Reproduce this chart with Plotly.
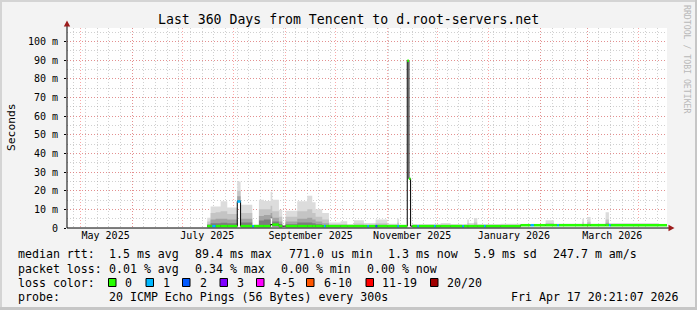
import plotly.graph_objects as go

# ---------------- data (values in milliseconds) ----------------
range_start = "2025-04-22 20:21:07"
range_end = "2026-04-17 20:21:07"

seg_start = [
    "2025-07-16", "2025-07-18", "2025-07-19", "2025-07-21", "2025-07-24", "2025-07-28",
    "2025-08-03", "2025-08-05", "2025-08-12", "2025-08-13", "2025-08-16", "2025-08-19",
    "2025-08-23", "2025-08-24", "2025-08-28", "2025-08-30", "2025-09-01", "2025-09-08",
    "2025-09-14", "2025-09-17", "2025-09-19", "2025-09-23", "2025-09-24", "2025-09-25",
    "2025-09-27", "2025-10-04", "2025-10-08", "2025-10-12", "2025-10-18", "2025-10-20",
    "2025-10-21", "2025-10-25", "2025-10-26", "2025-11-01", "2025-11-07", "2025-11-08",
    "2025-11-13", "2025-11-14", "2025-11-15", "2025-11-16", "2025-11-19", "2025-11-20",
    "2025-11-29", "2025-11-30", "2025-12-03", "2025-12-09", "2025-12-16", "2025-12-17",
    "2025-12-19", "2025-12-20", "2025-12-23", "2025-12-25", "2025-12-29", "2025-12-30",
    "2026-01-08", "2026-01-20", "2026-01-26", "2026-01-28", "2026-02-04", "2026-02-09",
    "2026-02-11", "2026-02-12", "2026-02-26", "2026-02-27", "2026-03-01", "2026-03-03",
    "2026-03-12", "2026-03-14", "2026-03-15", "2026-04-13",
]
ping_min = [
    0.75, 0.75, 0.75, 0.75, 0.75, 0.75,
    14.0, 0.75, 0.75, 0.75, 0.75, 0.75,
    5.5, 0.75, 0.75, 1.0, 0.75, 0.75,
    0.75, 0.75, 0.75, 0.75, 0.75, 0.75,
    0.75, 0.75, 0.75, 0.75, 0.75, 0.75,
    0.75, 0.75, 0.75, 0.75, 0.75, 0.75,
    89.5, 26.2, 1.0, 0.75, 0.75, 0.75,
    0.75, 0.75, 0.75, 0.75, 0.75, 0.75,
    0.75, 0.75, 0.75, 0.75, 0.75, 0.75,
    0.75, 1.2, 1.2, 1.2, 1.2, 1.2,
    1.2, 1.2, 1.2, 1.2, 1.2, 1.2,
    1.2, 1.2, 1.2, 1.2,
]
smoke_inner = [
    1.5, 2.5, 2.5, 2.5, 2.8, 2.5,
    15.0, 3.0, 1.1, 1.1, 4.0, 4.5,
    6.0, 3.5, 2.2, 1.0, 2.0, 3.0,
    3.0, 2.5, 2.0, 1.6, 1.6, 1.6,
    1.2, 1.2, 1.1, 1.2, 1.1, 1.1,
    1.1, 1.2, 1.2, 1.1, 1.2, 1.0,
    89.6, 26.3, 1.0, 1.1, 1.1, 1.1,
    1.1, 1.1, 1.1, 1.1, 1.1, 1.1,
    1.2, 1.1, 1.2, 1.1, 1.1, 1.1,
    1.1, 1.5, 1.5, 1.5, 1.6, 1.5,
    1.5, 1.5, 1.6, 1.5, 1.7, 1.5,
    1.8, 1.5, 1.5, 1.5,
]
smoke_mid = [
    2.2, 4.5, 4.5, 5.0, 5.0, 4.5,
    17.0, 5.0, 1.3, 1.3, 6.5, 7.0,
    8.0, 5.5, 3.5, 1.0, 3.5, 5.0,
    5.5, 4.5, 3.5, 2.5, 2.5, 2.5,
    1.5, 1.6, 1.3, 1.6, 1.4, 1.4,
    1.4, 1.7, 1.7, 1.3, 1.7, 1.1,
    89.7, 26.4, 1.0, 1.3, 1.3, 1.3,
    1.3, 1.3, 1.4, 1.3, 1.3, 1.3,
    1.7, 1.4, 1.8, 1.3, 1.3, 1.3,
    1.3, 1.6, 1.6, 1.6, 2.0, 1.7,
    1.7, 1.7, 2.1, 1.7, 2.3, 1.7,
    2.8, 1.8, 1.8, 1.6,
]
smoke_outer = [
    3.5, 8.0, 8.0, 8.5, 9.0, 7.5,
    20.0, 8.0, 1.5, 1.5, 10.0, 10.0,
    12.0, 9.0, 6.0, 1.0, 6.0, 9.0,
    10.0, 8.0, 6.0, 4.5, 4.5, 4.5,
    2.0, 2.2, 1.6, 2.4, 1.9, 1.9,
    1.9, 2.6, 2.6, 1.7, 2.8, 1.3,
    89.8, 26.5, 1.0, 1.6, 1.6, 1.6,
    1.6, 1.6, 1.9, 1.6, 1.6, 1.6,
    2.6, 1.9, 3.0, 1.6, 1.6, 1.6,
    1.7, 1.8, 1.8, 1.8, 2.7, 1.9,
    1.9, 1.9, 3.0, 1.9, 3.4, 1.9,
    4.5, 2.1, 2.1, 1.8,
]
ping_max = [
    5.5, 11.6, 11.6, 11.6, 14.3, 11.0,
    25.0, 12.5, 1.9, 1.9, 15.2, 14.5,
    19.5, 15.2, 9.8, 1.0, 9.3, 14.3,
    17.3, 13.8, 10.1, 8.0, 8.0, 8.0,
    3.0, 3.6, 2.2, 4.1, 2.7, 2.7,
    2.7, 4.5, 4.5, 2.3, 4.9, 1.7,
    89.9, 26.6, 1.0, 2.2, 2.2, 2.2,
    2.2, 2.2, 2.7, 2.2, 2.2, 2.2,
    4.5, 2.7, 5.4, 2.2, 2.2, 2.2,
    2.3, 2.2, 2.2, 2.2, 4.1, 2.3,
    2.3, 2.3, 4.9, 2.3, 5.9, 2.3,
    8.4, 2.7, 2.7, 2.2,
]
median_rtt = [
    1.0, 1.0, 1.0, 1.0, 1.0, 1.0,
    14.2, 1.0, 1.0, 1.0, 1.0, 1.0,
    1.8, 1.8, 1.0, 1.0, 1.0, 1.0,
    1.0, 1.0, 1.0, 1.0, 1.0, 1.0,
    1.0, 1.0, 1.0, 1.0, 1.0, 1.0,
    1.0, 1.0, 1.0, 1.0, 1.0, 1.0,
    89.7, 26.4, 1.0, 1.0, 1.0, 1.0,
    1.0, 1.0, 1.0, 1.0, 1.0, 1.0,
    1.0, 1.0, 1.0, 1.0, 1.0, 1.0,
    1.0, 1.5, 1.5, 1.5, 1.5, 1.5,
    1.5, 1.5, 1.5, 1.5, 1.5, 1.5,
    1.5, 1.5, 1.5, 1.5,
]
loss_class = [
    0, 0, 1, 0, 0, 0,
    1, 0, 1, 0, 0, 0,
    None, 0, 0, None, 0, 0,
    0, 0, 0, 0, 1, 0,
    0, 0, 0, 0, 0, 1,
    0, 2, 0, 0, 1, 0,
    0, 0, None, 0, 1, 0,
    1, 0, 0, 0, 1, 0,
    0, 0, 0, 0, 1, 0,
    0, 0, 1, 0, 0, 0,
    1, 0, 0, 0, 0, 0,
    0, 1, 0, 0,
]

y_tick_vals = [0, 10, 20, 30, 40, 50, 60, 70, 80, 90, 100]
y_tick_text = ["0", "10 m", "20 m", "30 m", "40 m", "50 m", "60 m", "70 m", "80 m", "90 m", "100 m"]
month_starts = ["2025-05-01", "2025-06-01", "2025-07-01", "2025-08-01", "2025-09-01", "2025-10-01",
                "2025-11-01", "2025-12-01", "2026-01-01", "2026-02-01", "2026-03-01", "2026-04-01"]
x_label_pos = ["2025-05-16", "2025-07-16", "2025-09-16", "2025-11-16", "2026-01-16", "2026-03-16"]
x_label_text = ["May 2025", "July 2025", "September 2025", "November 2025", "January 2026", "March 2026"]

loss_names = ["0", "1", "2", "3", "4-5", "6-10", "11-19", "20/20"]
loss_colors = ["#26ff00", "#00b8ff", "#0059ff", "#7e00ff", "#ff00ff", "#ff5500", "#ff0000", "#a10000"]

legend_rows = [
    [("median rtt:", 16), ("1.5 ms avg", 107.3), ("89.4 ms max", 193.3), ("771.0 us min", 286.7),
     ("1.3 ms now", 386.3), ("5.9 ms sd", 472), ("247.7 m am/s", 551)],
    [("packet loss:", 16), ("0.01 % avg", 107.3), ("0.34 % max", 193.3), ("0.00 % min", 279.3),
     ("0.00 % now", 365.3)],
    [("loss color:", 16)],
    [("probe:", 16), ("20 ICMP Echo Pings (56 Bytes) every 300s", 107.3)],
]
legend_row_y = [254.3, 268.5, 282.5, 296.8]
swatch_x = [108.5, 146, 182.5, 220, 256.5, 306.5, 366, 430.5]
swatch_label_x = [123.3, 161, 197.7, 235, 271.7, 321.7, 380.3, 445.3]
timestamp = "Fri Apr 17 20:21:07 2026"

# ---------------- layout helpers ----------------
W, H = 697, 310
L, R, T, B = 67, 30, 28, 82
PW, PH = W - L - R, H - T - B
MONO = "DejaVu Sans Mono"


def px(x):
    return (x - L) / PW


def py(y):
    return (H - B - y) / PH


seg_end = seg_start[1:] + [range_end]
xs_step = seg_start + [range_end]


def step(vals):
    return list(vals) + [vals[-1]]


fig = go.Figure()

# smoke layers, outer (light) to inner (dark)
layers = [(ping_max, "#dcdcdc"), (smoke_outer, "#c4c4c4"), (smoke_mid, "#a4a4a4"), (smoke_inner, "#7c7c7c")]
for vals, col in layers:
    fig.add_trace(go.Scatter(x=xs_step, y=step(ping_min), mode="lines", line=dict(width=0, shape="hv"),
                             hoverinfo="skip", showlegend=False))
    fig.add_trace(go.Scatter(x=xs_step, y=step(vals), mode="lines", line=dict(width=0, shape="hv"),
                             fill="tonexty", fillcolor=col, hoverinfo="skip", showlegend=False))

# median (thin black step line)
fig.add_trace(go.Scatter(x=xs_step, y=step(median_rtt), mode="lines",
                         line=dict(width=1, color="#000000", shape="hv"), hoverinfo="skip", showlegend=False))

# median coloured by loss
for c, col in enumerate(loss_colors):
    xs, ys = [], []
    for i, cl in enumerate(loss_class):
        if cl == c:
            xs += [seg_start[i], seg_end[i], None]
            ys += [median_rtt[i], median_rtt[i], None]
    if xs:
        fig.add_trace(go.Scatter(x=xs, y=ys, mode="lines", line=dict(width=2.5, color=col),
                                 hoverinfo="skip", showlegend=False))

# invisible trace for the label overlay axis
fig.add_trace(go.Scatter(x=[range_start], y=[0], xaxis="x2", mode="markers", marker=dict(opacity=0),
                         hoverinfo="skip", showlegend=False))

red_grid = "rgba(245,80,80,0.5)"
gray_grid = "rgba(150,150,150,0.45)"
DOT = "1px,2px"

fig.update_layout(
    width=W, height=H,
    margin=dict(l=L, r=R, t=T, b=B),
    paper_bgcolor="#f3f3f3", plot_bgcolor="#ffffff",
    showlegend=False,
    font=dict(family=MONO, color="#000000", size=10),
    xaxis=dict(type="date", range=[range_start, range_end], tickvals=month_starts,
               showticklabels=False, showgrid=True, gridcolor=red_grid, griddash=DOT, gridwidth=1,
               zeroline=False, showline=False, ticks="",
               minor=dict(dtick=7 * 86400000, tick0="2025-04-27", showgrid=True,
                          gridcolor=gray_grid, griddash=DOT, gridwidth=1)),
    xaxis2=dict(type="date", range=[range_start, range_end], overlaying="x", side="bottom", anchor="y",
                tickvals=x_label_pos, ticktext=x_label_text, showgrid=False, zeroline=False,
                showline=False, ticks="", tickfont=dict(family=MONO, size=10, color="#000000")),
    yaxis=dict(range=[0, 107.3], tickvals=y_tick_vals, ticktext=y_tick_text, showgrid=True,
               gridcolor=red_grid, griddash=DOT, zeroline=False, showline=False,
               ticks="outside", ticklen=2, tickcolor="#000000", ticklabelstandoff=4,
               tickfont=dict(family=MONO, size=10, color="#000000"),
               minor=dict(dtick=5, showgrid=True, gridcolor=gray_grid, griddash=DOT)),
)

shapes = []
# axis lines
shapes.append(dict(type="line", xref="paper", yref="paper", x0=px(67), x1=px(670), y0=py(228), y1=py(228),
                   line=dict(color="#000000", width=1)))
shapes.append(dict(type="line", xref="paper", yref="paper", x0=px(67), x1=px(67), y0=py(228), y1=py(24),
                   line=dict(color="#000000", width=1)))
# arrows
arrow_col = "#9c1c1c"
shapes.append(dict(type="path", xref="paper", yref="paper",
                   path=f"M {px(67)} {py(20.5)} L {px(63.8)} {py(26.5)} L {px(70.2)} {py(26.5)} Z",
                   fillcolor=arrow_col, line=dict(color=arrow_col, width=0)))
shapes.append(dict(type="path", xref="paper", yref="paper",
                   path=f"M {px(674.5)} {py(228)} L {px(668.5)} {py(224.8)} L {px(668.5)} {py(231.2)} Z",
                   fillcolor=arrow_col, line=dict(color=arrow_col, width=0)))
# frame
shapes.append(dict(type="rect", xref="paper", yref="paper", x0=px(0), x1=px(2), y0=py(0), y1=py(310),
                   fillcolor="#d4d4d4", line=dict(width=0)))
shapes.append(dict(type="rect", xref="paper", yref="paper", x0=px(0), x1=px(697), y0=py(0), y1=py(2),
                   fillcolor="#d4d4d4", line=dict(width=0)))
shapes.append(dict(type="rect", xref="paper", yref="paper", x0=px(695), x1=px(697), y0=py(0), y1=py(310),
                   fillcolor="#c6c6c6", line=dict(width=0)))
shapes.append(dict(type="rect", xref="paper", yref="paper", x0=px(0), x1=px(697), y0=py(307), y1=py(310),
                   fillcolor="#c6c6c6", line=dict(width=0)))
# loss colour swatches
for sx, col in zip(swatch_x, loss_colors):
    shapes.append(dict(type="rect", xref="paper", yref="paper", x0=px(sx), x1=px(sx + 7.5),
                       y0=py(legend_row_y[2] + 4), y1=py(legend_row_y[2] - 4),
                       fillcolor=col, line=dict(color="#000000", width=1)))
fig.update_layout(shapes=shapes)

ann = []
ann.append(dict(text="Last 360 Days from Tencent to d.root-servers.net", x=px(348), y=py(19.5),
                xref="paper", yref="paper", showarrow=False, xanchor="center", yanchor="middle",
                font=dict(family=MONO, size=13.2, color="#000000")))
ann.append(dict(text="Seconds", x=px(11), y=py(127), xref="paper", yref="paper", showarrow=False,
                textangle=-90, xanchor="center", yanchor="middle", font=dict(family=MONO, size=11.3)))
ann.append(dict(text="RRDTOOL / TOBI OETIKER", x=px(687), y=py(59), xref="paper", yref="paper",
                showarrow=False, textangle=90, xanchor="center", yanchor="middle",
                font=dict(family=MONO, size=8.2, color="#b8b8b8")))
for row, ry in zip(legend_rows, legend_row_y):
    for txt, tx in row:
        ann.append(dict(text=txt, x=px(tx), y=py(ry), xref="paper", yref="paper", showarrow=False,
                        xanchor="left", yanchor="middle", font=dict(family=MONO, size=11.6)))
for name, tx in zip(loss_names, swatch_label_x):
    ann.append(dict(text=name, x=px(tx), y=py(legend_row_y[2]), xref="paper", yref="paper", showarrow=False,
                    xanchor="left", yanchor="middle", font=dict(family=MONO, size=11.6)))
ann.append(dict(text=timestamp, x=px(680.5), y=py(legend_row_y[3]), xref="paper", yref="paper",
                showarrow=False, xanchor="right", yanchor="middle", font=dict(family=MONO, size=11.6)))
fig.update_layout(annotations=ann)

fig.write_html("out.html")
